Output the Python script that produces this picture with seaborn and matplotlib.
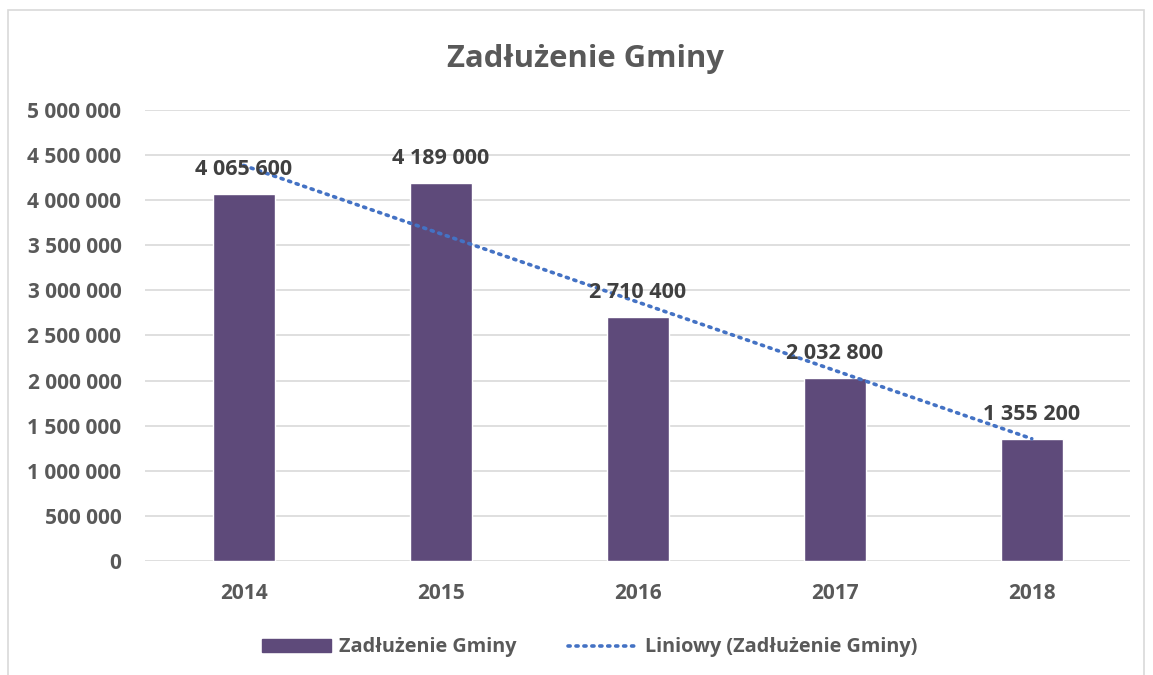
import numpy as np
import pandas as pd
import matplotlib
matplotlib.use('Agg')
import matplotlib.pyplot as plt
import seaborn as sns
from matplotlib.patches import Patch, Rectangle
from matplotlib.lines import Line2D
from matplotlib.ticker import FuncFormatter

# ========== DANE ==========
lata = ['2014', '2015', '2016', '2017', '2018']
zadluzenie = [4065600, 4189000, 2710400, 2032800, 1355200]

df = pd.DataFrame({'rok': lata, 'kwota': zadluzenie})

# ========== POSTAVKE ==========
sns.set_style("white")
plt.rcParams['font.family'] = ['Open Sans', 'DejaVu Sans']
plt.rcParams['font.weight'] = 'bold'

BAR = '#5E4A7A'
TREND = '#4472C4'
GRAY = '#595959'

fig = plt.figure(figsize=(11.53, 6.75), dpi=100)
ax = fig.add_axes([0.1258, 0.169, 0.8545, 0.668])

sns.barplot(data=df, x='rok', y='kwota', color=BAR, width=0.315,
            saturation=1, ax=ax, zorder=2)

# linia trendu (regresja liniowa)
x = np.arange(len(lata))
a, b = np.polyfit(x, zadluzenie, 1)
ax.plot(x, a * x + b, linestyle=(0, (0.6, 1.6)), color=TREND, lw=2.6,
        dash_capstyle='round', zorder=3)

def fmt(v, pos=None):
    return f'{int(v):,}'.replace(',', ' ')

for i, v in enumerate(zadluzenie):
    ax.annotate(fmt(v), (i, v), xytext=(0, 10), textcoords='offset points',
                ha='center', va='bottom', fontsize=15.5, fontweight='bold',
                color='#404040', zorder=4)

ax.set_ylim(0, 5000000)
ax.set_xlim(-0.5, 4.5)
ax.set_yticks(np.arange(0, 5000001, 500000))
ax.yaxis.set_major_formatter(FuncFormatter(fmt))
ax.grid(axis='y', color='#D9D9D9', lw=1.2, zorder=0)
ax.set_axisbelow(True)
for s in ax.spines.values():
    s.set_visible(False)
ax.tick_params(axis='both', length=0, labelsize=15, labelcolor=GRAY)
ax.tick_params(axis='x', pad=16)
ax.tick_params(axis='y', pad=17)
for t in ax.get_xticklabels() + ax.get_yticklabels():
    t.set_fontweight('bold')
ax.set_xlabel('')
ax.set_ylabel('')

fig.text(0.508, 0.912, 'Zadłużenie Gminy', ha='center', va='center',
         fontsize=22.3, fontweight='bold', color=GRAY)

handles = [Patch(facecolor=BAR, edgecolor=BAR, label='Zadłużenie Gminy'),
           Line2D([], [], color=TREND, lw=2.6, linestyle=(0, (0.6, 1.6)),
                  dash_capstyle='round', label='Liniowy (Zadłużenie Gminy)')]
leg = fig.legend(handles=handles, loc='center', bbox_to_anchor=(0.5113, 0.041),
                 ncol=2, frameon=False, fontsize=14.3, handlelength=3.5,
                 handleheight=0.6, columnspacing=2.56, handletextpad=0.4)
for t in leg.get_texts():
    t.set_color(GRAY)
    t.set_fontweight('bold')

# ramka wykresu
fig.patches.append(Rectangle((0.007, -0.01), 0.985, 0.995, transform=fig.transFigure,
                             fill=False, edgecolor='#D9D9D9', lw=1.2))

plt.savefig('out.png', dpi=100)
plt.close()
